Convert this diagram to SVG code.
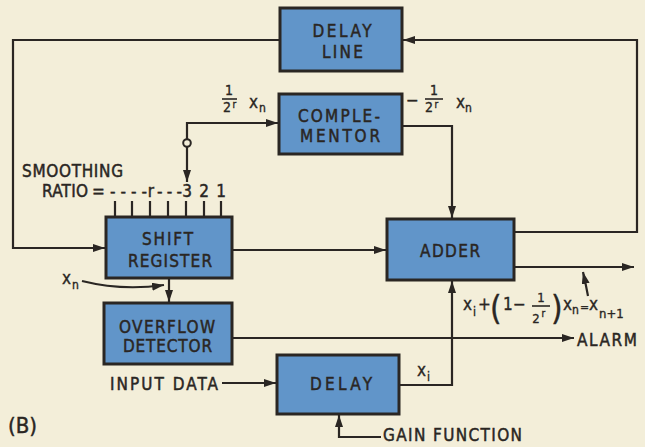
<svg xmlns="http://www.w3.org/2000/svg" width="645" height="447" viewBox="0 0 645 447">
<defs>
<marker id="ah" viewBox="0 0 12 8" refX="12" refY="4" markerWidth="12" markerHeight="8" orient="auto" markerUnits="userSpaceOnUse"><path d="M0,0 L12,4 L0,8 Z" fill="#2a2623"/></marker>
</defs>
<style>
.bg{fill:#f3eed9}
.box{fill:#6195c9;stroke:#2a2623;stroke-width:3}
.t{font-family:'DejaVu Sans Condensed','DejaVu Sans',sans-serif;font-stretch:condensed;font-size:17px;fill:#2a2623;stroke:#2a2623;stroke-width:0.45}
.m{font-family:'DejaVu Sans Condensed','DejaVu Sans',sans-serif;font-stretch:condensed;fill:#2a2623;stroke:#2a2623;stroke-width:0.35}
.c{text-anchor:middle}
.ln{fill:none;stroke:#2a2623;stroke-width:2.2}
.a{marker-end:url(#ah)}
</style>
<rect class="bg" x="0" y="0" width="645" height="447"/>

<g id="connectors">
  <path class="ln a" d="M514,232 H637 V40 H403"/>
  <path class="ln a" d="M280,40 H13 V248 H105"/>
  <path class="ln a" d="M232,250 H386"/>
  <circle cx="187" cy="143" r="3.8" fill="none" stroke="#2a2623" stroke-width="2"/>
  <path class="ln a" d="M187,139 V123 H278"/>
  <path class="ln a" d="M187,147 V182"/>
  <path class="ln a" d="M402,126 H452 V218"/>
  <path class="ln a" d="M399,385 H452 V281"/>
  <path class="ln a" d="M514,267 H634"/>
  <path class="ln a" d="M169,278 V302"/>
  <path class="ln a" d="M232,338 H574"/>
  <path class="ln a" d="M222,383 H276"/>
  <path class="ln a" d="M381,437 H339 V415"/>
  <path class="ln a" d="M82,281 Q122,291 164,285"/>
  <path class="ln a" d="M588,296 Q586,285 583,272"/>
  <g class="ln">
    <path d="M115,201 V217 M132,201 V217 M150,201 V217 M168,201 V217 M186,201 V217 M204,201 V217 M221,201 V217"/>
  </g>
</g>

<g id="delay-line">
  <rect class="box" x="280" y="8" width="122" height="63"/>
  <text class="t c" x="342" y="37" textLength="59">DELAY</text>
  <text class="t c" x="342.5" y="58" textLength="41">LINE</text>
</g>
<g id="complementor">
  <rect class="box" x="279" y="94" width="123" height="60"/>
  <text class="t c" x="339" y="122" textLength="82">COMPLE-</text>
  <text class="t c" x="340" y="142" textLength="80">MENTOR</text>
</g>
<g id="shift-register">
  <rect class="box" x="106" y="217" width="126" height="61"/>
  <text class="t c" x="167.5" y="245" textLength="51">SHIFT</text>
  <text class="t c" x="170" y="267" textLength="84">REGISTER</text>
</g>
<g id="adder">
  <rect class="box" x="387" y="219" width="127" height="61"/>
  <text class="t c" x="450" y="257" textLength="60">ADDER</text>
</g>
<g id="overflow-detector">
  <rect class="box" x="104" y="303" width="128" height="61"/>
  <text class="t c" x="167" y="333" textLength="96">OVERFLOW</text>
  <text class="t c" x="167.5" y="352" textLength="89">DETECTOR</text>
</g>
<g id="delay">
  <rect class="box" x="277" y="355" width="122" height="59"/>
  <text class="t c" x="341" y="390" textLength="62">DELAY</text>
</g>

<g id="labels">
  <text class="t" x="22" y="177" textLength="101">SMOOTHING</text>
  <text class="t" x="42" y="197" textLength="46">RATIO</text>
  <text class="t" x="92" y="197">=</text>
  <text class="t" x="110" y="197" textLength="37">----</text>
  <text class="t c" x="151" y="197">r</text>
  <text class="t" x="157" y="197" textLength="25">---</text>
  <text class="t c" x="187" y="197">3</text>
  <text class="t c" x="204" y="197">2</text>
  <text class="t c" x="221" y="197">1</text>

  <text class="m c" x="229" y="95" font-size="14">1</text>
  <path d="M222,99 H237" stroke="#2a2623" stroke-width="1.6"/>
  <text class="m c" x="227" y="112" font-size="14">2</text>
  <text class="m" x="232.5" y="108" font-size="10">r</text>
  <text class="m" x="249" y="108" font-size="17">x</text>
  <text class="m" x="259" y="112" font-size="12">n</text>

  <text class="m" x="406" y="106" font-size="17">−</text>
  <text class="m c" x="434" y="95" font-size="14">1</text>
  <path d="M425,99 H443" stroke="#2a2623" stroke-width="1.6"/>
  <text class="m c" x="429" y="112" font-size="14">2</text>
  <text class="m" x="434.5" y="108" font-size="10">r</text>
  <text class="m" x="456" y="108" font-size="17">x</text>
  <text class="m" x="465" y="112" font-size="12">n</text>

  <text class="m" x="62" y="284" font-size="17">x</text>
  <text class="m" x="72" y="289" font-size="12">n</text>

  <text class="m" x="417" y="376" font-size="17">x</text>
  <text class="m" x="427" y="381" font-size="12">i</text>

  <text class="m" x="463" y="310" font-size="17">x</text>
  <text class="m" x="473" y="316" font-size="12">i</text>
  <text class="m" x="478" y="310" font-size="17">+</text>
  <text class="m" x="490" y="320" font-size="33">(</text>
  <text class="m" x="503" y="310" font-size="17">1</text>
  <text class="m" x="513" y="310" font-size="17">−</text>
  <text class="m c" x="541" y="302" font-size="13">1</text>
  <path d="M532,306 H550" stroke="#2a2623" stroke-width="1.6"/>
  <text class="m c" x="536" y="323" font-size="13">2</text>
  <text class="m" x="541.5" y="317" font-size="10">r</text>
  <text class="m" x="551" y="320" font-size="33">)</text>
  <text class="m" x="563" y="310" font-size="17">x</text>
  <text class="m" x="572" y="314" font-size="12">n</text>
  <text class="m" x="580" y="311" font-size="12">=</text>
  <text class="m" x="589" y="310" font-size="17">x</text>
  <text class="m" x="599" y="318" font-size="13">n+1</text>

  <text class="t" x="577" y="346" textLength="60">ALARM</text>
  <text class="t" x="110" y="390" textLength="108">INPUT DATA</text>
  <text class="t" x="383" y="441" textLength="139">GAIN FUNCTION</text>
  <text class="t" x="8" y="433" style="font-size:22px">(B)</text>
</g>
</svg>
